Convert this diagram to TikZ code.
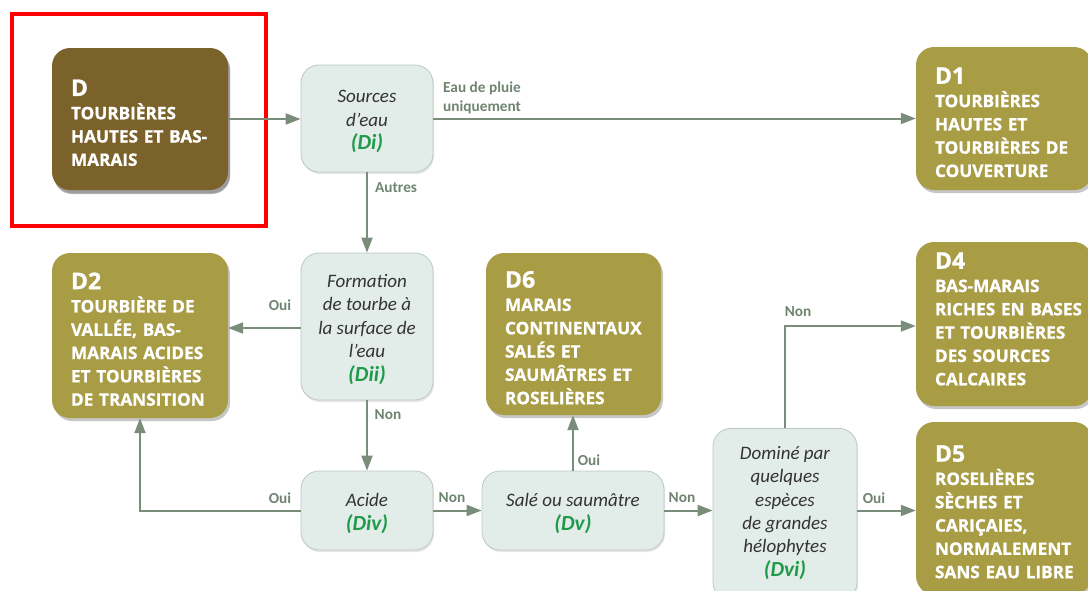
\documentclass[tikz,border=0pt]{standalone}
\usepackage{fontspec}
\setmainfont{Carlito}
\newfontfamily\titlefont{Open Sans}[BoldFeatures={FakeBold=1}]
\usetikzlibrary{arrows.meta,shadows}

\definecolor{olive}{HTML}{A89C45}
\definecolor{peat}{HTML}{7B622A}
\definecolor{qfill}{HTML}{E2ECE8}
\definecolor{qline}{HTML}{BCC8C3}
\definecolor{flow}{HTML}{7A8C7A}
\definecolor{flowtext}{HTML}{6F8470}
\definecolor{idgreen}{HTML}{1F9A4A}
\definecolor{qtext}{HTML}{333333}

% class names keep their lines whole, never hyphenated
\newcommand{\nohyph}{\hyphenpenalty=10000 \exhyphenpenalty=10000 \hbadness=10000 \hfuzz=100pt\relax}

\tikzset{
  habitat/.style={rectangle, rounded corners=18pt, fill=olive, draw=none,
    text=white, align=left, inner xsep=19pt, inner ysep=0pt,
    drop shadow={opacity=0.45, shadow xshift=2pt, shadow yshift=-3pt},
    execute at begin node=\nohyph,
    font=\titlefont\bfseries\fontsize{17.2}{23.3}\selectfont},
  question/.style={rectangle, rounded corners=18pt, fill=qfill, draw=qline,
    line width=0.8pt, text=qtext, align=center, inner sep=0pt,
    drop shadow={opacity=0.2, shadow xshift=1pt, shadow yshift=-2pt},
    font=\itshape\fontsize{19}{23.5}\selectfont},
  flowline/.style={draw=flow, line width=2pt,
    -{Triangle[length=15pt,width=11pt]}},
  flowlabel/.style={text=flowtext, font=\bfseries\fontsize{15.3}{18.5}\selectfont,
    inner sep=0pt, align=left},
}
% class code above the class name, with extra room on top
\newcommand{\hdr}[1]{{\fontsize{23}{24}\selectfont\rule{0pt}{24pt}#1}\\}
% extra room below the last line of a class name
\newcommand{\hbot}{\rule[-18pt]{0pt}{0pt}}
% extra room above the first line of a key question
\newcommand{\qtop}{\rule{0pt}{19pt}}
% green code below a key question
\newcommand{\qid}[1]{\\{\color{idgreen}\bfseries\fontsize{21.5}{27}\selectfont #1}}

\begin{document}
\begin{tikzpicture}[x=1pt,y=-1pt]
  \useasboundingbox (0,0) rectangle (1088,590);
  \clip (0,0) rectangle (1088,590);

  % highlight frame around the root class
  \draw[red, line width=4pt] (12,14) rectangle (266,226);

  % habitat classes
  \node[habitat, fill=peat, minimum width=176pt, minimum height=142pt,
        text width=138pt,
        drop shadow={opacity=0.6, shadow xshift=2pt, shadow yshift=-4pt}]
    (D) at (140,119) {\hdr{D}TOURBIÈRES\\HAUTES~ET~BAS-\\MARAIS};
  \node[habitat, minimum width=176pt, minimum height=143pt, text width=138pt]
    (D1) at (1004,118.5) {\hdr{D1}TOURBIÈRES\\HAUTES~ET\\TOURBIÈRES~DE\\COUVERTURE};
  \node[habitat, minimum width=176pt, minimum height=165pt, text width=138pt]
    (D2) at (140,335.5) {\hdr{D2}TOURBIÈRE~DE\\VALLÉE,~BAS-\\MARAIS~ACIDES\\ET~TOURBIÈRES\\DE~TRANSITION};
  \node[habitat, minimum width=175pt, minimum height=162pt, text width=137pt]
    (D6) at (573.5,334) {\hdr{D6}MARAIS\\CONTINENTAUX\\SALÉS~ET\\SAUMÂTRES~ET\\ROSELIÈRES};
  \node[habitat, minimum width=176pt, minimum height=164pt, text width=138pt]
    (D4) at (1004,324) {\hdr{D4}BAS-MARAIS\\RICHES~EN~BASES\\ET~TOURBIÈRES\\DES~SOURCES\\CALCAIRES\hbot};
  \node[habitat, minimum width=176pt, minimum height=172pt, text width=138pt]
    (D5) at (1004,508) {\hdr{D5}ROSELIÈRES\\SÈCHES~ET\\CARIÇAIES,\\NORMALEMENT\\SANS~EAU~LIBRE};

  % key questions
  \node[question, minimum width=132pt, minimum height=107pt]
    (Di) at (367,118.5) {\qtop Sources\\d’eau\qid{(Di)}};
  \node[question, minimum width=132pt, minimum height=147pt]
    (Dii) at (367,326.5) {\qtop Formation\\de tourbe à\\la surface de\\l’eau\qid{(Dii)}};
  \node[question, minimum width=132pt, minimum height=79pt]
    (Div) at (367,510.5) {\qtop Acide\qid{(Div)}};
  \node[question, minimum width=182pt, minimum height=79pt]
    (Dv) at (573,510.5) {\qtop Salé ou saumâtre\qid{(Dv)}};
  \node[question, minimum width=144pt, minimum height=172pt, anchor=north]
    (Dvi) at (785,428) {};
  \node[text=qtext, align=center, inner sep=0pt, anchor=north,
        font=\itshape\fontsize{19}{23.4}\selectfont]
    (Dvitext) at (785,446) {Dominé par\\quelques\\espèces\\de grandes\\hélophytes\qid{(Dvi)}};

  % decision flow
  \draw[flowline] (D.east) -- (D.east -| Di.west);
  \draw[flowline] (Di.east) -- (Di.east -| D1.west);
  \draw[flowline] (Di.south) -- (Dii.north);
  \draw[flowline] ([yshift=-1.5pt]Dii.west) -- ([yshift=-1.5pt]Dii.west -| D2.east);
  \draw[flowline] (Dii.south) -- (Div.north);
  \draw[flowline] (Div.west) -- (Div.west -| D2.south) -- (D2.south);
  \draw[flowline] (Div.east) -- (Dv.west);
  \draw[flowline] (Dv.north) -- (Dv.north |- D6.south);
  \draw[flowline] (Dv.east) -- (Dv.east -| Dvi.west);
  \draw[flowline] (Dvi.north) -- ([yshift=-2pt]Dvi.north |- D4.west) -- ([yshift=-2pt]D4.west);
  \draw[flowline] (Dvi.east |- Dv.east) -- (D5.west |- Dv.east);

  % answers
  \node[flowlabel, anchor=north west] (lrain) at (443,82) {Eau de pluie\\uniquement};
  \node[flowlabel, anchor=west] (lautres) at (375,188) {Autres};
  \node[flowlabel] (loui1) at (280,305) {Oui};
  \node[flowlabel] (lnon1) at (388,415) {Non};
  \node[flowlabel] (loui2) at (280,498) {Oui};
  \node[flowlabel] (lnon2) at (452,498) {Non};
  \node[flowlabel] (loui3) at (589,460) {Oui};
  \node[flowlabel] (lnon3) at (682,498) {Non};
  \node[flowlabel] (lnon4) at (798,312) {Non};
  \node[flowlabel] (loui4) at (874,498) {Oui};
\end{tikzpicture}
\end{document}
